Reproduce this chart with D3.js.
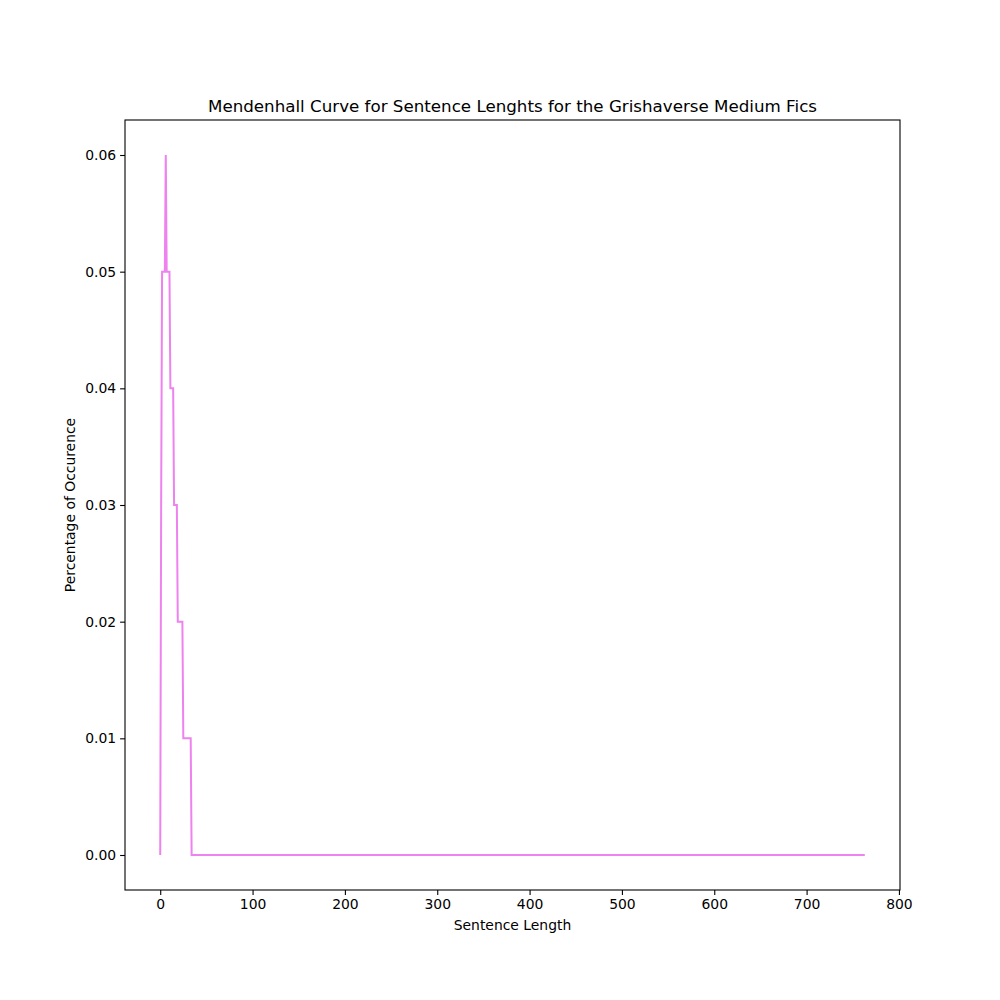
<!DOCTYPE html>
<html lang="en">
<head>
    <meta charset="UTF-8">
    <title>Mendenhall Curve</title>
    <script src="https://d3js.org/d3.v7.min.js"></script>
    <style>
        body { margin: 0; background: white; }
        text { font-family: "DejaVu Sans", sans-serif; fill: black; }
    </style>
</head>
<body>
    <svg id="chart" width="1000" height="1000"></svg>
    <script>
        // sentence length -> share of sentences (rounded to 2 decimals in the source)
        const lengths = [0, 1, 2, 3, 4, 5, 6, 7, 8, 9, 10, 11, 12, 13, 14, 15, 16, 17, 18,
                         19, 20, 21, 22, 23, 24, 25, 26, 27, 28, 29, 30, 31, 32, 33, 34, 763];
        const occurrence = [0, 0.03, 0.05, 0.05, 0.05, 0.05, 0.06, 0.05, 0.05, 0.05, 0.05,
                            0.04, 0.04, 0.04, 0.04, 0.03, 0.03, 0.03, 0.03,
                            0.02, 0.02, 0.02, 0.02, 0.02, 0.02,
                            0.01, 0.01, 0.01, 0.01, 0.01, 0.01, 0.01, 0.01, 0.01, 0, 0];
        const xTicks = [0, 100, 200, 300, 400, 500, 600, 700, 800];
        const yTicks = [0, 0.01, 0.02, 0.03, 0.04, 0.05, 0.06];

        const data = lengths.map((l, i) => ({ x: l, y: occurrence[i] }));

        const svg = d3.select('#chart');
        const plotLeft = 125, plotRight = 900, plotTop = 120, plotBottom = 890;

        // matplotlib-style 5% margins
        const xMin = d3.min(lengths), xMax = d3.max(lengths);
        const xPad = (xMax - xMin) * 0.05;
        const yMin = d3.min(occurrence), yMax = d3.max(occurrence);
        const yPad = (yMax - yMin) * 0.05;

        const x = d3.scaleLinear().domain([xMin - xPad, xMax + xPad]).range([plotLeft, plotRight]);
        const y = d3.scaleLinear().domain([yMin - yPad, yMax + yPad]).range([plotBottom, plotTop]);

        svg.append('path')
            .datum(data)
            .attr('fill', 'none')
            .attr('stroke', 'violet')
            .attr('stroke-width', 2)
            .attr('d', d3.line().x(d => x(d.x)).y(d => y(d.y)));

        const xAxis = svg.append('g')
            .attr('transform', `translate(0,${plotBottom})`)
            .call(d3.axisBottom(x).tickValues(xTicks).tickSize(4.9).tickPadding(4).tickFormat(d3.format('d')));
        const yAxis = svg.append('g')
            .attr('transform', `translate(${plotLeft},0)`)
            .call(d3.axisLeft(y).tickValues(yTicks).tickSize(4.9).tickPadding(4).tickFormat(d3.format('.2f')));

        [xAxis, yAxis].forEach(a => {
            a.select('.domain').remove();
            a.selectAll('line').attr('stroke', 'black').attr('stroke-width', 1.1);
            a.selectAll('text').attr('font-size', 13.9).attr('font-family', '"DejaVu Sans", sans-serif');
        });

        svg.append('rect')
            .attr('x', plotLeft).attr('y', plotTop)
            .attr('width', plotRight - plotLeft).attr('height', plotBottom - plotTop)
            .attr('fill', 'none').attr('stroke', 'black').attr('stroke-width', 1.1);

        svg.append('text')
            .attr('x', (plotLeft + plotRight) / 2).attr('y', 112)
            .attr('text-anchor', 'middle').attr('font-size', 16.7)
            .text('Mendenhall Curve for Sentence Lenghts for the Grishaverse Medium Fics');

        svg.append('text')
            .attr('x', (plotLeft + plotRight) / 2).attr('y', 930)
            .attr('text-anchor', 'middle').attr('font-size', 13.9)
            .text('Sentence Length');

        svg.append('text')
            .attr('transform', `translate(75,${(plotTop + plotBottom) / 2}) rotate(-90)`)
            .attr('text-anchor', 'middle').attr('font-size', 13.9)
            .text('Percentage of Occurence');
    </script>
</body>
</html>
